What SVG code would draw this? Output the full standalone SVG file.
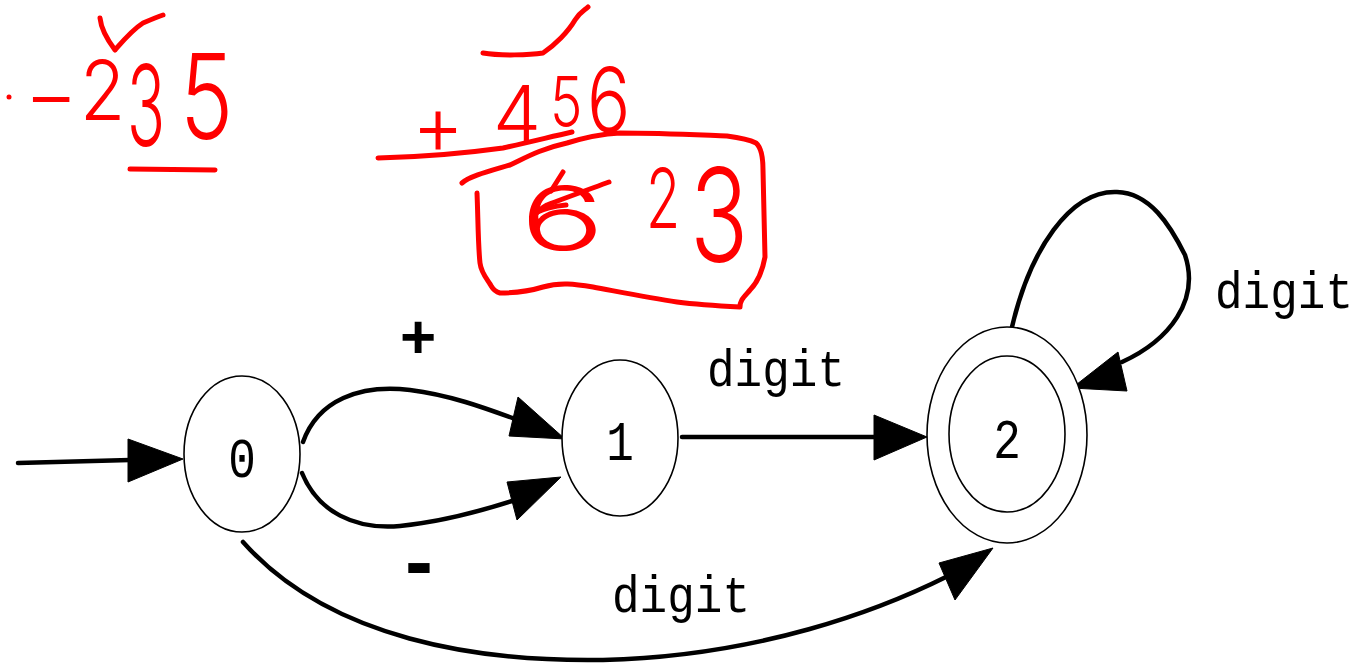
<svg xmlns="http://www.w3.org/2000/svg" width="1363" height="664" viewBox="0 0 1363 664">
<style>
.bg{fill:#fff}
.node{fill:#fff;stroke:#000;stroke-width:1.6}
.lbl{font-family:"Liberation Mono","DejaVu Sans Mono",monospace;font-size:46px;fill:#000}
.edge{fill:none;stroke:#000;stroke-width:4.5;stroke-linecap:round}
.head{fill:#000;stroke:#000;stroke-width:1}
.sym{font-family:"Liberation Sans","DejaVu Sans",sans-serif;font-weight:bold;fill:#000}
.hand{font-family:"Inter","Roboto","Liberation Sans",sans-serif;font-weight:300;fill:#ff0000}
.mark{fill:none;stroke:#ff0000;stroke-width:5;stroke-linecap:round;stroke-linejoin:round}
</style>
<rect class="bg" x="0" y="0" width="1363" height="664"/>

<g id="connectors">
  <g id="e-start">
    <path class="edge" d="M18,463 L130,460"/>
    <polygon class="head" points="128,439 183,459 128,482"/>
  </g>
  <g id="e-0-1-plus">
    <path class="edge" d="M303,442 C318,400 360,384 410,390 C450,395 485,408 515,419"/>
    <polygon class="head" points="518,397 565,439 509,436"/>
    <text class="sym" x="418" y="358" font-size="62" text-anchor="middle">+</text>
  </g>
  <g id="e-0-1-minus">
    <path class="edge" d="M302,473 C318,512 355,530 400,526 C440,522 478,512 515,500"/>
    <polygon class="head" points="507,482 561,477 517,520"/>
    <text class="sym" x="419" y="590" font-size="84" text-anchor="middle">-</text>
  </g>
  <g id="e-1-2">
    <path class="edge" d="M682,437 L878,437"/>
    <polygon class="head" points="874,415 927,437 874,460"/>
    <text class="lbl" transform="translate(707,386) scale(1,1.12)">digit</text>
  </g>
  <g id="e-0-2">
    <path class="edge" d="M243,542 C330,640 480,662 603,660 C760,656 880,610 948,576"/>
    <polygon class="head" points="939,563 993,548 955,600"/>
    <text class="lbl" transform="translate(612,612) scale(1,1.12)">digit</text>
  </g>
  <g id="e-2-2">
    <path class="edge" d="M1012,327 C1030,250 1070,190 1117,192 C1150,193 1170,225 1185,255 C1200,300 1170,340 1122,362"/>
    <polygon class="head" points="1118,352 1127,391 1072,388"/>
    <text class="lbl" transform="translate(1215,308) scale(1,1.12)">digit</text>
  </g>
</g>

<g id="node-0">
  <ellipse class="node" cx="242" cy="454" rx="58" ry="78"/>
  <text class="lbl" text-anchor="middle" transform="translate(242,477) scale(1,1.2)">0</text>
</g>
<g id="node-1">
  <ellipse class="node" cx="620" cy="438" rx="58" ry="78"/>
  <text class="lbl" text-anchor="middle" transform="translate(620,460) scale(1,1.2)">1</text>
</g>
<g id="node-2">
  <ellipse class="node" cx="1007" cy="435" rx="80" ry="108"/>
  <ellipse class="node" cx="1007" cy="434" rx="58" ry="78"/>
  <text class="lbl" text-anchor="middle" transform="translate(1007,458) scale(1,1.2)">2</text>
</g>

<g id="annotations">
  <circle cx="9" cy="97" r="2.5" fill="#ff0000"/>
  <text class="hand" font-size="80" transform="translate(24,124) scale(1.5,1)">-</text>
  <text class="hand" font-size="82" transform="translate(80,120) scale(0.9,1)">2</text>
  <text class="hand" font-size="112" transform="translate(127,146) scale(0.56,1)">3</text>
  <text class="hand" font-size="118" transform="translate(180,139) scale(0.76,1)">5</text>
  <path class="mark" d="M100,18 C101,28 106,38 115,50 C122,42 132,30 143,23 C150,20 157,17 163,15"/>
  <path class="mark" d="M130,169 L215,170"/>

  <text class="hand" font-size="84" transform="translate(412,154) scale(0.95,1)">+</text>
  <text class="hand" font-size="78" transform="translate(493,142) scale(0.98,1)">4</text>
  <text class="hand" font-size="70" transform="translate(550,127) scale(0.78,1)">5</text>
  <text class="hand" font-size="90" transform="translate(587,132) scale(0.8,1)">6</text>
  <path class="mark" d="M483,53 C500,56 530,55 543,53 C555,45 568,32 575,20 C580,12 585,10 588,7"/>
  <path class="mark" d="M378,158 C420,157 460,154 503,148 C530,142 550,137 572,132"/>

  <path class="mark" d="M462,183 C470,176 490,171 510,165 C525,158 540,149 567,143 C580,139 600,134 620,133 C660,133 700,135 727,136 C742,138 752,141 756,143 C762,148 763,160 763,170 L765,257 C763,268 758,282 750,290 C744,297 740,300 740,307 C720,306 700,305 677,302 C650,298 620,292 593,287 C575,284 560,282 543,287 C530,291 512,293 500,293 C493,291 492,287 490,284 C486,278 481,272 480,263 C478,245 478,215 477,193"/>
  <text class="hand" font-size="88" transform="translate(520,250) scale(1.6,1)">6</text>
  <path class="mark" d="M609,182 C590,189 565,198 547,205 C540,209 537,212 535,215"/>
  <path class="mark" d="M540,198 L535,213 C545,208 555,206 566,205"/>
  <path class="mark" d="M563,172 L551,191"/>
  <text class="hand" font-size="82" transform="translate(646,228) scale(0.68,1)">2</text>
  <text class="hand" font-size="130" transform="translate(690,262) scale(0.74,1)">3</text>
</g>
</svg>
